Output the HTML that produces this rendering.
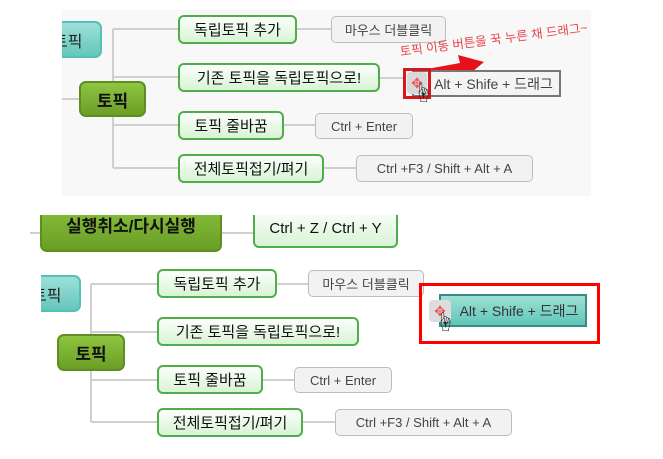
<!DOCTYPE html>
<html><head><meta charset="utf-8"><style>
body{margin:0;width:663px;height:459px;background:#fff;position:relative;overflow:hidden;font-family:"Liberation Sans","Noto Sans CJK KR",sans-serif}
.a{position:absolute;box-sizing:border-box;display:flex;align-items:center;justify-content:center;white-space:nowrap}
.g{border:2px solid #4fae4a;border-radius:6px;background:linear-gradient(#fbfffb,#d8f3d5);font-size:15px;color:#111}
.k{border:1px solid #bdbdbd;border-radius:5px;background:#f2f2f2;font-size:13px;color:#444}
.m{border:2px solid #5f8e20;border-radius:7px;background:linear-gradient(#8ec540,#6a9e26);font-size:17px;font-weight:bold;color:#111}
.t{position:absolute;box-sizing:border-box;overflow:hidden;border:2px solid #55c0b8;border-left:none;border-radius:0 7px 7px 0;background:linear-gradient(#9de0d8,#66c6bb);font-size:16px;color:#222}
.t span{position:absolute;left:-9px;top:50%;transform:translateY(-50%);white-space:nowrap}
.h{position:absolute;font-size:20px;color:#222;line-height:1}
</style></head><body>
<div style="position:absolute;left:62px;top:10px;width:529px;height:186px;background:#f8f8f8"></div>
<svg style="position:absolute;left:0;top:0" width="663" height="459">
<g stroke="#cfcfcf" stroke-width="2" fill="none">
<path d="M62 99H79M113 29V168M113 29H178M113 77H178M113 125H178M113 168H178M297 29H331M284 125H315M324 168H356M380 78H403"/>
<path d="M30 233H40M222 233H253M41 293H57M91 284V422M91 284H157M91 332H157M91 380H157M91 422H157M277 284H308M263 380H294M303 422H335"/>
</g>
<path d="M427 69 L460 63 L458 55 L484 62 L466 77 L463 72 L429 79Z" fill="#e8111a"/>
</svg>
<div class="t" style="left:62px;top:21px;width:40px;height:37px"><span>토픽</span></div>
<div class="a m" style="left:79px;top:81px;width:67px;height:36px">토픽</div>
<div class="a g" style="left:178px;top:15px;width:119px;height:29px">독립토픽 추가</div>
<div class="a g" style="left:178px;top:63px;width:202px;height:29px">기존 토픽을 독립토픽으로!</div>
<div class="a g" style="left:178px;top:111px;width:106px;height:29px">토픽 줄바꿈</div>
<div class="a g" style="left:178px;top:154px;width:146px;height:29px">전체토픽접기/펴기</div>
<div class="a k" style="left:331px;top:16px;width:115px;height:27px">마우스 더블클릭</div>
<div class="a k" style="left:315px;top:113px;width:98px;height:26px">Ctrl + Enter</div>
<div class="a k" style="left:356px;top:155px;width:177px;height:27px">Ctrl +F3 / Shift + Alt + A</div>
<div class="a" style="left:412px;top:70px;width:149px;height:27px;border:2px solid #777;background:#f4f4f4;font-size:14px;color:#444;padding-left:14px">Alt + Shife + 드래그</div>
<div class="a" style="left:407px;top:72px;width:20px;height:22px;background:#d8d8d8;border-radius:4px;color:#e55;font-size:14px">✥</div>
<div class="a" style="left:403px;top:68px;width:28px;height:31px;border:3px solid #d7161e"></div>
<div style="position:absolute;left:401px;top:41px;font-size:12.5px;color:#e8434a;transform:rotate(-7.4deg);transform-origin:left bottom;white-space:nowrap">토픽 이동 버튼을 꾹 누른 채 드래그~</div>
<div class="h" style="left:413px;top:84px">☝</div>
<!-- bottom -->
<div class="a m" style="left:40px;top:196px;width:182px;height:56px">실행취소/다시실행</div>
<div class="a g" style="left:253px;top:208px;width:145px;height:40px">Ctrl + Z / Ctrl + Y</div>
<div style="position:absolute;left:0;top:196px;width:663px;height:19px;background:#fff"></div>
<div class="t" style="left:41px;top:275px;width:40px;height:37px"><span>토픽</span></div>
<div class="a m" style="left:57px;top:334px;width:68px;height:37px">토픽</div>
<div class="a g" style="left:157px;top:269px;width:120px;height:29px">독립토픽 추가</div>
<div class="a g" style="left:157px;top:317px;width:202px;height:29px">기존 토픽을 독립토픽으로!</div>
<div class="a g" style="left:157px;top:365px;width:106px;height:29px">토픽 줄바꿈</div>
<div class="a g" style="left:157px;top:408px;width:146px;height:29px">전체토픽접기/펴기</div>
<div class="a k" style="left:308px;top:270px;width:116px;height:27px">마우스 더블클릭</div>
<div class="a k" style="left:294px;top:367px;width:98px;height:26px">Ctrl + Enter</div>
<div class="a k" style="left:335px;top:409px;width:177px;height:27px">Ctrl +F3 / Shift + Alt + A</div>
<div class="a" style="left:439px;top:294px;width:148px;height:33px;border:2px solid #3a8a85;background:linear-gradient(#9fe0d6,#5fc6b8);font-size:14px;color:#333;padding-left:12px">Alt + Shife + 드래그</div>
<div class="a" style="left:429px;top:300px;width:22px;height:22px;background:#ddd;border-radius:4px;color:#e55;font-size:14px">✥</div>
<div class="h" style="left:435px;top:313px">☝</div>
<div class="a" style="left:419px;top:283px;width:181px;height:61px;border:3px solid #f00"></div>
</body></html>
